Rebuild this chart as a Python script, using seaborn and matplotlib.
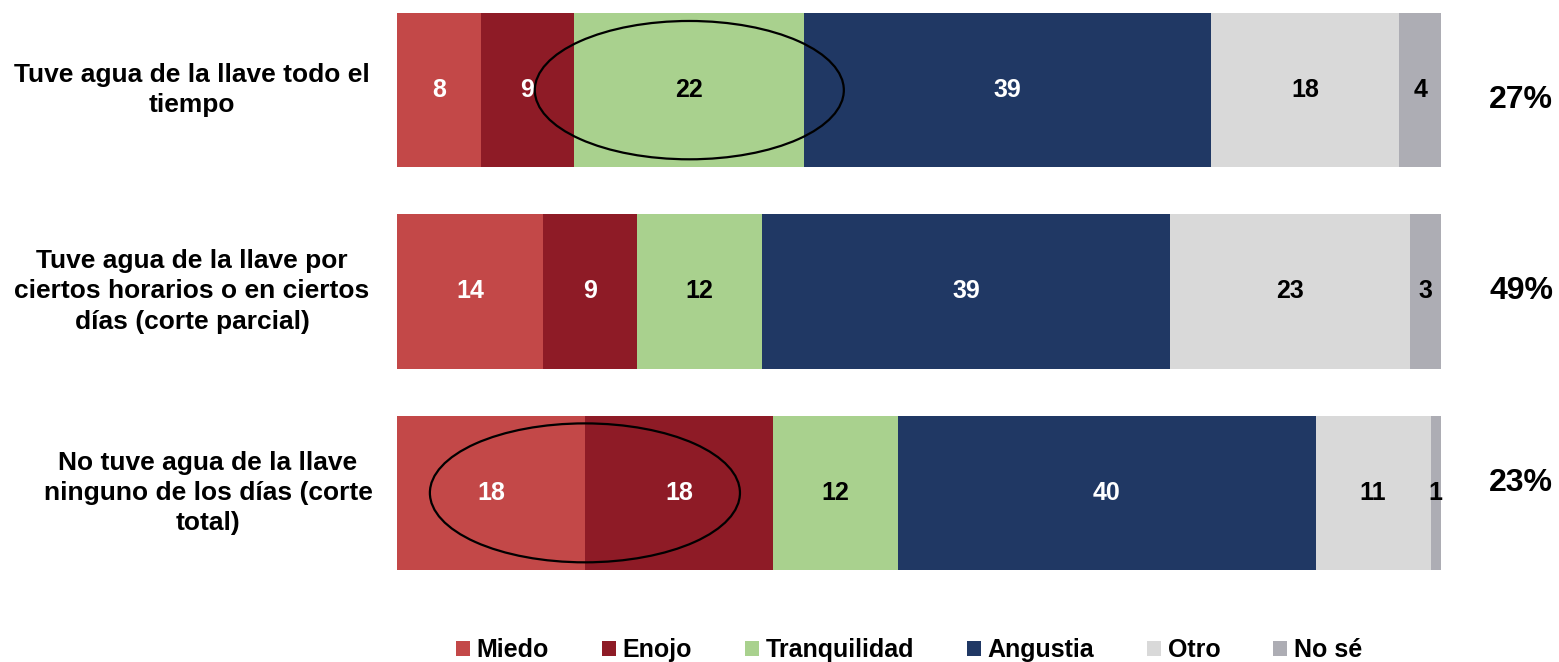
import matplotlib
matplotlib.use("Agg")
import matplotlib.pyplot as plt
import matplotlib.transforms as mtransforms
import seaborn as sns
import pandas as pd
import numpy as np
from matplotlib.patches import Ellipse, Patch

sns.set_style("white")
plt.rcParams['font.family'] = ['Liberation Sans', 'DejaVu Sans']
plt.rcParams['text.color'] = 'black'

categories = [
    "Tuve agua de la llave todo el\ntiempo",
    "Tuve agua de la llave por\nciertos horarios o en ciertos\ndías (corte parcial)",
    "No tuve agua de la llave\nninguno de los días (corte\ntotal)",
]
series = ["Miedo", "Enojo", "Tranquilidad", "Angustia", "Otro", "No sé"]
miedo = [8, 14, 18]
enojo = [9, 9, 18]
tranquilidad = [22, 12, 12]
angustia = [39, 39, 40]
otro = [18, 23, 11]
no_se = [4, 3, 1]
shares = ["27%", "49%", "23%"]

colors = ["#C34848", "#8E1B26", "#A9D18E", "#203864", "#D9D9D9", "#ADADB4"]
text_colors = ["white", "white", "black", "white", "black", "black"]

values = np.array([miedo, enojo, tranquilidad, angustia, otro, no_se], dtype=float)
cum = np.cumsum(values, axis=0)

fig = plt.figure(figsize=(15.59, 6.62), dpi=100)
h = 154 / 201
ax = fig.add_axes([397 / 1559, (662 - 570) / 662, (1441 - 397) / 1559, (570 - 13) / 662])

ids = ["r0", "r1", "r2"]
for i in range(len(series) - 1, -1, -1):
    df = pd.DataFrame({"row": ids, "val": cum[i]})
    sns.barplot(data=df, x="val", y="row", orient="h", color=colors[i],
                width=h, saturation=1, ax=ax, linewidth=0, errorbar=None)

for r in range(3):
    for i in range(len(series)):
        v = values[i, r]
        xc = cum[i, r] - v / 2
        ax.text(xc, r, f"{int(v)}", ha="center", va="center", fontsize=18,
                fontweight="bold", color=text_colors[i])

ax.set_xlim(0, 100)
ax.set_ylim(2 + h / 2, -h / 2)
ax.axis("off")

# ellipses highlighting
e1 = Ellipse((cum[1, 0] + values[2, 0] / 2, 0), 29.6, 0.687, fill=False,
             edgecolor="black", linewidth=1.6, zorder=5)
e2 = Ellipse((cum[0, 2], 2), 29.7, 0.69, fill=False,
             edgecolor="black", linewidth=1.6, zorder=5)
ax.add_patch(e1)
ax.add_patch(e2)

blend = mtransforms.blended_transform_factory(fig.transFigure, ax.transData)

# category labels
label_x = [192, 192, 208]
for r, cat in enumerate(categories):
    ax.text(label_x[r] / 1559, r, cat, transform=blend,
            ha="center", va="center", multialignment="center",
            fontsize=19, fontweight="bold", color="black", linespacing=1.32)

# share labels
share_dy = [0.05, 0.0, -0.05]
for r, s in enumerate(shares):
    ax.text(1521 / 1559, r + share_dy[r], s, transform=blend,
            ha="center", va="center", fontsize=23, fontweight="bold", color="black")

handles = [Patch(facecolor=c, edgecolor="none", label=s) for c, s in zip(colors, series)]
leg = fig.legend(handles=handles, loc="center", bbox_to_anchor=(909 / 1559, 1 - 650 / 662),
                 ncol=6, frameon=False, handlelength=0.56, handleheight=0.56,
                 handletextpad=0.28, columnspacing=2.1, labelcolor="black",
                 prop={"weight": "bold", "size": 18})

fig.savefig("out.png", dpi=100)
